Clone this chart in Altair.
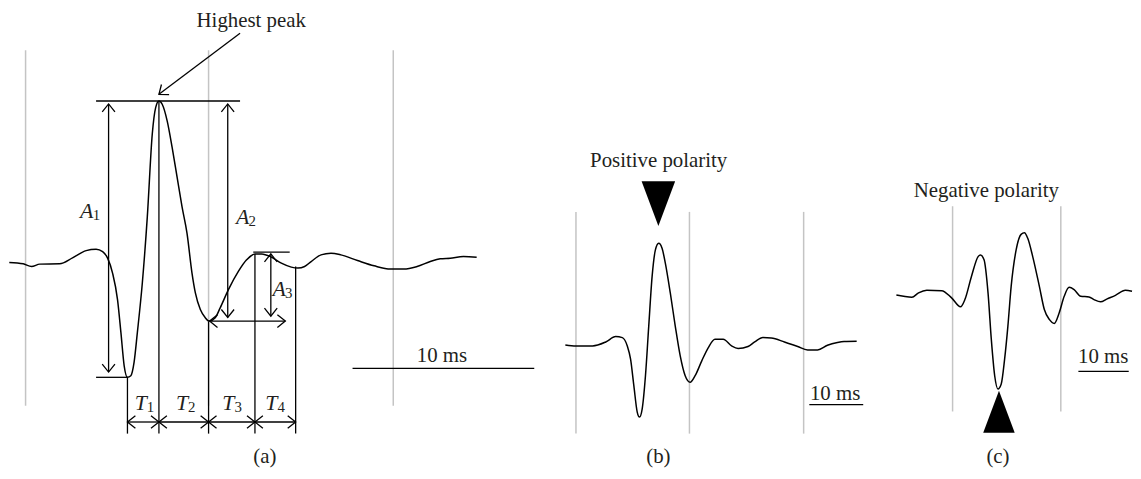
import math
import altair as alt
import pandas as pd

# ---- waveform (a)
wave_a_x = [9.3, 23.3, 31.7, 40, 60, 73, 86.7, 96.7, 103.3, 108.3, 113.3, 118.3, 121.7, 125, 128.3, 131.7,
            135, 138.3, 143.3, 148.3, 153.3, 156.7, 160, 163.3, 168.3, 173.3, 178.3, 183.3, 188.3, 193.3,
            196.7, 201.7, 206.7, 210.7, 216.7, 221.7, 230, 240, 248.3, 256.7, 263.3, 273.3, 283.3, 293.3,
            300, 306.7, 313.3, 323.3, 333.3, 343.3, 360, 376.7, 393.3, 406.7, 420, 433.3, 443.3, 453.3,
            466.7, 480]
wave_a_y = [262.7, 264, 266.7, 264.3, 264, 258, 250.7, 249.3, 251.7, 258.3, 273.3, 300, 333, 366.7, 378.3,
            376.7, 363, 333, 283, 216.7, 133.3, 106.7, 100, 103.3, 120, 146.7, 176.7, 206.7, 233.3, 273.3,
            293.3, 310, 318.3, 321.7, 318.3, 308.3, 290, 271.7, 260, 254, 254, 257.3, 263.3, 267.3,
            268.3, 266.7, 261.7, 255, 253.3, 255, 260.7, 266, 269.3, 269.3, 266.7, 261.7, 259, 258.3,
            256.7, 257.3]

# ---- waveform (b)
wave_b_x = [569.3, 580, 596.7, 610, 620, 626.7, 631.7, 635, 638.3, 641.7, 644, 646.7, 650, 653.3, 656.7,
            660, 663.3, 666.7, 670, 675, 680, 685, 690, 695, 700, 706.7, 713.3, 720, 728.3, 736.7, 743.3,
            753.3, 760, 768.3, 776.7, 790, 803.3, 813.3, 823.3, 833.3, 843.3, 850, 862.7]
wave_b_y = [345.7, 346.7, 346.7, 342.7, 337.3, 338.3, 346.7, 360, 386.7, 413.3, 418.3, 410, 376.7, 326.7,
            276.7, 250, 243.3, 248.3, 263.3, 293.3, 326.7, 356.7, 376.7, 383.3, 376.7, 361.7, 348.3, 340,
            340, 346.7, 349.3, 347.3, 342.7, 338.3, 338.7, 342.7, 347.3, 350.7, 350.7, 346, 343.3, 342.3, 342]

# ---- waveform (c)
wave_c_x = [902.7, 910, 918.3, 925, 933.3, 948.3, 958.3, 967.3, 971.7, 978.3, 985, 987.3, 991, 995, 998.3,
            1001.7, 1005, 1008.3, 1011.7, 1015, 1018.3, 1023.3, 1028.3, 1031.7, 1035, 1040, 1046.7, 1051.7,
            1056.7, 1061.7, 1066.7, 1071.7, 1076.7, 1081.7, 1088.3, 1096.7, 1101.7, 1108.3, 1115, 1123.3,
            1133.3, 1140]
wave_c_y = [295.3, 296.7, 297.7, 293.3, 290.7, 291, 298.3, 307.3, 300, 276.7, 256.7, 255, 260, 293.3, 340,
            376.7, 390, 385, 360, 326.7, 286.7, 250, 234.3, 232.7, 238.3, 256.7, 286.7, 310, 320, 324,
            313.3, 296.7, 287.7, 290, 296.7, 297.3, 300, 302.3, 299.3, 295.7, 290.7, 291.7]

# ---- grey vertical guide lines
guide_x = [25.7, 210, 396, 580, 694.3, 809.3, 959.3, 1068.3]
guide_y1 = [49, 49, 49, 211.7, 211.7, 211.7, 206, 206]
guide_y2 = [407, 407, 407, 435, 435, 435, 412.7, 412.7]

# ---- black segments (reference levels, boundaries, scale bars)
seg_x1 = [96.7, 96.7, 255, 128.3, 160, 210, 256.7, 297.7, 355, 815, 1086]
seg_y1 = [100, 378.3, 252.3, 378.3, 100, 322, 254, 266.7, 369.3, 405.7, 372.3]
seg_x2 = [241.7, 128.3, 291.7, 128.3, 160, 210, 256.7, 297.7, 538, 869.3, 1136.7]
seg_y2 = [100, 378.3, 252.3, 435, 435, 435, 435, 435, 369.3, 405.7, 372.3]

# ---- double-headed arrows (A1, A2, A3, horizontal, T1..T4)
darr_x1 = [109.3, 229.3, 272.7, 211, 128.3, 160, 210, 256.7]
darr_y1 = [103, 103, 254, 321.7, 423.3, 423.3, 423.3, 423.3]
darr_x2 = [109.3, 229.3, 272.7, 287.3, 160, 210, 256.7, 297.7]
darr_y2 = [373, 318, 316.7, 321.7, 423.3, 423.3, 423.3, 423.3]

# ---- single arrow "Highest peak"
sarr_x1 = [241.7]
sarr_y1 = [31.7]
sarr_x2 = [160]
sarr_y2 = [93.3]

# ---- symbol labels
lab_letter = ["A", "A", "A", "T", "T", "T", "T"]
lab_sub = ["1", "2", "3", "1", "2", "3", "4"]
lab_x = [87.3, 244.3, 281, 141.7, 183.3, 230, 273.3]
lab_y = [211, 217, 289.5, 404.5, 404.5, 404.5, 404.5]

# ---- plain texts
txt = ["Highest peak", "Positive polarity", "Negative polarity", "10 ms", "10 ms", "10 ms", "(a)", "(b)", "(c)"]
txt_x = [253, 663.3, 993.3, 445, 841, 1111, 266.7, 663, 1005]
txt_y = [25, 166.7, 196.7, 362.7, 400.7, 364, 465, 465, 465]

# ---- polarity markers
tri_x = [663, 1006]
tri_y = [203.3, 412.9]
tri_dir = ["down", "up"]

# ------------------------------------------------------------------
waves = pd.concat([
    pd.DataFrame({"x": wave_a_x, "y": wave_a_y, "panel": "a"}),
    pd.DataFrame({"x": wave_b_x, "y": wave_b_y, "panel": "b"}),
    pd.DataFrame({"x": wave_c_x, "y": wave_c_y, "panel": "c"}),
])
waves["i"] = range(len(waves))

X = lambda f: alt.X(f, type="quantitative", scale=alt.Scale(domain=[8, 1141]), axis=None)
Y = lambda f: alt.Y(f, type="quantitative", scale=alt.Scale(domain=[8, 471], reverse=True), axis=None)

guides = pd.DataFrame({"x": guide_x, "y": guide_y1, "y2": guide_y2})
segs = pd.DataFrame({"x": seg_x1, "y": seg_y1, "x2": seg_x2, "y2": seg_y2})
shafts = pd.DataFrame({"x": darr_x1 + sarr_x1, "y": darr_y1 + sarr_y1,
                       "x2": darr_x2 + sarr_x2, "y2": darr_y2 + sarr_y2})

heads = []
for x1, y1, x2, y2 in zip(darr_x1, darr_y1, darr_x2, darr_y2):
    a = math.degrees(math.atan2(y2 - y1, x2 - x1)) % 360
    heads.append({"x": x2, "y": y2, "angle": a})
    heads.append({"x": x1, "y": y1, "angle": (a + 180) % 360})
for x1, y1, x2, y2 in zip(sarr_x1, sarr_y1, sarr_x2, sarr_y2):
    a = math.degrees(math.atan2(y2 - y1, x2 - x1)) % 360
    heads.append({"x": x2, "y": y2, "angle": a})
heads = pd.DataFrame(heads)

labels = pd.DataFrame({"x": lab_x, "y": lab_y, "letter": lab_letter, "sub": lab_sub})
texts = pd.DataFrame({"x": txt_x, "y": txt_y, "t": txt})
tris = pd.DataFrame({"x": tri_x, "y": tri_y, "d": tri_dir})

FONT = "Liberation Serif"
INK = "#231f20"

guide_layer = alt.Chart(guides).mark_rule(color="#c4c4c4", strokeWidth=1.5).encode(
    x=X("x"), y=Y("y"), y2="y2")
seg_layer = alt.Chart(segs).mark_rule(color="black", strokeWidth=1.3).encode(
    x=X("x"), y=Y("y"), x2="x2", y2="y2")
shaft_layer = alt.Chart(shafts).mark_rule(color="black", strokeWidth=1.3).encode(
    x=X("x"), y=Y("y"), x2="x2", y2="y2")
head_layer = alt.Chart(heads).mark_point(
    shape="M-1,-0.8L0,0L-1,0.8", filled=False, size=256, color="black", strokeWidth=1.3, opacity=1
).encode(x=X("x"), y=Y("y"), angle=alt.Angle("angle:Q", scale=None))
wave_layer = alt.Chart(waves).mark_line(color="black", strokeWidth=1.5, interpolate="monotone").encode(
    x=X("x"), y=Y("y"), detail="panel:N", order="i:Q")
tri_down = alt.Chart(tris[tris.d == "down"]).mark_point(
    shape="M-0.75,-1L0.75,-1L0,1Z", filled=True, size=2025, color="black", opacity=1
).encode(x=X("x"), y=Y("y"))
tri_up = alt.Chart(tris[tris.d == "up"]).mark_point(
    shape="M0,-1L0.75,1L-0.75,1Z", filled=True, size=1789, color="black", opacity=1
).encode(x=X("x"), y=Y("y"))
text_layer = alt.Chart(texts).mark_text(font=FONT, fontSize=21, color=INK, baseline="alphabetic",
                                        align="center").encode(x=X("x"), y=Y("y"), text="t:N")
letter_layer = alt.Chart(labels).mark_text(font=FONT, fontSize=22, fontStyle="italic", color=INK,
                                           baseline="middle", align="center").encode(
    x=X("x"), y=Y("y"), text="letter:N")
sub_layer = alt.Chart(labels).mark_text(font=FONT, fontSize=15, color=INK, baseline="middle",
                                        align="left", dx=6, dy=4).encode(
    x=X("x"), y=Y("y"), text="sub:N")

chart = alt.layer(guide_layer, seg_layer, shaft_layer, head_layer, wave_layer, tri_down, tri_up,
                  text_layer, letter_layer, sub_layer).properties(
    width=1133, height=463, padding=0, autosize=alt.AutoSizeParams(type="none")
).configure_view(stroke=None)

chart.save("out.html", embed_options={"renderer": "svg", "actions": False})
